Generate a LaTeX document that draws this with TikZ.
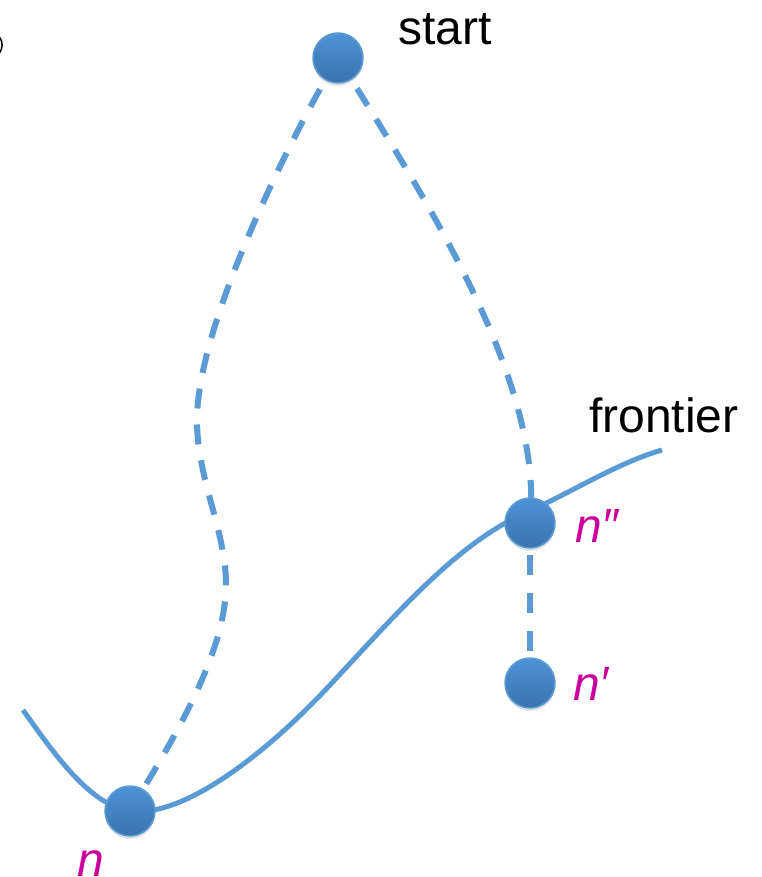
\documentclass[tikz,border=0pt]{standalone}
\usepackage{fontspec}
\setmainfont{Liberation Sans}
\usetikzlibrary{shadows}
\pgfdeclarelayer{bg}
\pgfsetlayers{bg,main}
\definecolor{lineblue}{HTML}{5B9BD5}
\definecolor{dotTop}{HTML}{4E93D4}
\definecolor{dotBot}{HTML}{3A72AE}
\definecolor{labmag}{HTML}{CC0099}
\tikzset{
  dot/.style={circle, minimum size=50pt, inner sep=0pt, top color=dotTop, bottom color=dotBot,
    draw=lineblue, line width=1.5pt,
    drop shadow={opacity=0.22, shadow xshift=0pt, shadow yshift=-3pt}},
  front/.style={lineblue, line width=5pt},
  trail/.style={lineblue, line width=6pt, dash pattern=on 20pt off 16pt},
  lab/.style={anchor=base west, inner sep=0pt, font=\fontsize{48}{58}\selectfont},
  nlab/.style={anchor=base west, inner sep=0pt, text=labmag, font=\fontsize{48}{58}\selectfont\itshape}
}
\begin{document}
\begin{tikzpicture}[x=1pt,y=-1pt]
\useasboundingbox (0,0) rectangle (761,877);
% nodes
\node[dot] (start) at (338,58) {};
\node[dot] (npp) at (530,523) {};
\node[dot] (np) at (530,683) {};
\node[dot] (n) at (130,811) {};
\coordinate (fl) at (23,710);
\coordinate (fr) at (662,450);
% labels
\node[lab] (lstart) at (398,45) {start};
\node[lab] (lfront) at (589,432) {frontier};
\node[nlab] (lnpp) at (575,542) {n″};
\node[nlab] (lnp) at (573,700) {n′};
\node[nlab] (ln) at (77,876) {n};
% clipped glyph fragment at left edge
\draw[line width=1.5pt] (-0.5,37) .. controls (3,42) and (3,48) .. (-0.5,53);
\begin{pgfonlayer}{bg}
\draw[front] (fl) .. controls (55,755) and (90,805) .. (n.center)
  .. controls (180,818) and (260,760) .. (330,685)
  .. controls (400,610) and (460,540) .. (530,511)
  .. controls (575,490) and (620,462) .. (fr);
\draw[trail] (start.center) .. controls (300,120) and (197,320) .. (197,420)
  .. controls (197,480) and (226,530) .. (226,585)
  .. controls (226,660) and (160,760) .. (n.center);
\draw[trail] (start.center) .. controls (420,190) and (545,380) .. (npp.center);
\draw[trail, dash pattern=on 20pt off 18pt, dash phase=6pt] (npp.center) -- (np.center);
\end{pgfonlayer}
\end{tikzpicture}
\end{document}
